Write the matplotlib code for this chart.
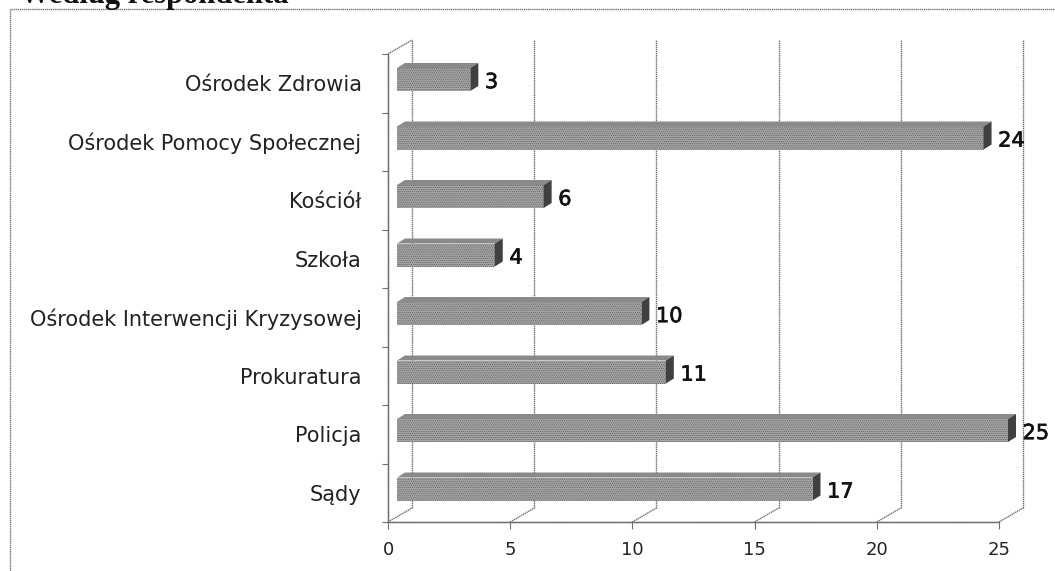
import matplotlib
matplotlib.use("Agg")
import matplotlib.pyplot as plt
import matplotlib.patheffects as pe
from matplotlib.patches import Polygon, Rectangle

W, H = 1055, 571

categories = ["Sądy", "Policja", "Prokuratura", "Ośrodek Interwencji Kryzysowej",
              "Szkoła", "Kościół", "Ośrodek Pomocy Społecznej", "Ośrodek Zdrowia"]
values = [17, 25, 11, 10, 4, 6, 24, 3]
x_ticks = [0, 5, 10, 15, 20, 25]

plt.rcParams["font.family"] = ["DejaVu Sans"]
plt.rcParams["hatch.linewidth"] = 0.5

fig = plt.figure(figsize=(W / 100, H / 100), dpi=100)
# plot area in pixels: x 388-999, y 54-522
ax = fig.add_axes([388 / W, 1 - 522 / H, (999 - 388) / W, (522 - 54) / H])
ax.set_xlim(0, 25)
ax.set_ylim(0, len(categories))
ax.patch.set_alpha(0)

# how far the 3d wall is pushed back, in data units
wall_dx = 24 / (611 / 25)
wall_dy = 14 / (468 / 8)
# bars stand a bit in front of the wall
bar_dx = 8 / (611 / 25)
bar_dy = 5 / (468 / 8)
bar_x0 = 9 / (611 / 25)
bar_h = 23 / (468 / 8)
bar_y = 33 / (468 / 8)

line = "#6f6f6f"
dots = (0, (1, 0.5))
# gridlines on the back wall + the floor diagonals
for t in x_ticks:
    ax.plot([t + wall_dx, t + wall_dx], [wall_dy, len(categories) + wall_dy], color=line, lw=1, ls=dots, clip_on=False, zorder=1)
    ax.plot([t, t + wall_dx], [0, wall_dy], color=line, lw=1, ls=dots, clip_on=False, zorder=1)
ax.plot([0, wall_dx], [len(categories), len(categories) + wall_dy], color=line, lw=1, ls=dots, clip_on=False, zorder=1)

for i, v in enumerate(values):
    y = i + bar_y - bar_h / 2
    x0 = bar_x0
    x1 = bar_x0 + v
    ax.barh(y + bar_h / 2, v, height=bar_h, left=x0, facecolor="#a6a6a6", edgecolor="#5c5c5c",
            hatch="........", linewidth=0, zorder=3, clip_on=False)
    ax.add_patch(Polygon([(x0, y + bar_h), (x1, y + bar_h), (x1 + bar_dx, y + bar_h + bar_dy), (x0 + bar_dx, y + bar_h + bar_dy)],
                         closed=True, facecolor="#8a8a8a", edgecolor="#8a8a8a", lw=0, zorder=3, clip_on=False))
    ax.add_patch(Polygon([(x1, y), (x1 + bar_dx, y + bar_dy), (x1 + bar_dx, y + bar_h + bar_dy), (x1, y + bar_h)],
                         closed=True, facecolor="#404040", edgecolor="#404040", lw=0, zorder=3, clip_on=False))
    ax.text(x1 + bar_dx + 0.27, y + bar_h / 2 - 0.045, str(v), ha="left", va="center", fontsize=15,
            color="#111111", zorder=4,
            path_effects=[pe.withStroke(linewidth=0.5, foreground="#111111")])

for s in ("top", "right"):
    ax.spines[s].set_visible(False)
for s in ("left", "bottom"):
    ax.spines[s].set_color(line)
    ax.spines[s].set_linewidth(1)
    ax.spines[s].set_linestyle(dots)

ax.set_xticks(x_ticks)
ax.tick_params(axis="x", length=5, color=line, labelsize=13, labelcolor="#222222", pad=9)
ax.set_yticks(range(len(categories) + 1))
ax.set_yticklabels([])
ax.tick_params(axis="y", length=4, color=line)
ax.set_yticks([i + 0.5 for i in range(len(categories))], minor=True)
ax.set_yticklabels(categories, minor=True, fontsize=15, color="#222222")
ax.tick_params(axis="y", which="minor", length=0, pad=19)

# outer frame of the scanned chart
fig.add_artist(Rectangle((10 / W, -0.02), 1.02, 1 - 9 / H + 0.02, transform=fig.transFigure,
                         fill=False, edgecolor="#777777", lw=1, ls=dots))
# cut-off heading above the chart
fig.text(20 / W, 1 - 3 / H, "Według respondenta", family=["Liberation Serif"], fontweight="bold",
         fontsize=22, color="#111111", ha="left", va="baseline")

fig.savefig("out.png", dpi=100)
